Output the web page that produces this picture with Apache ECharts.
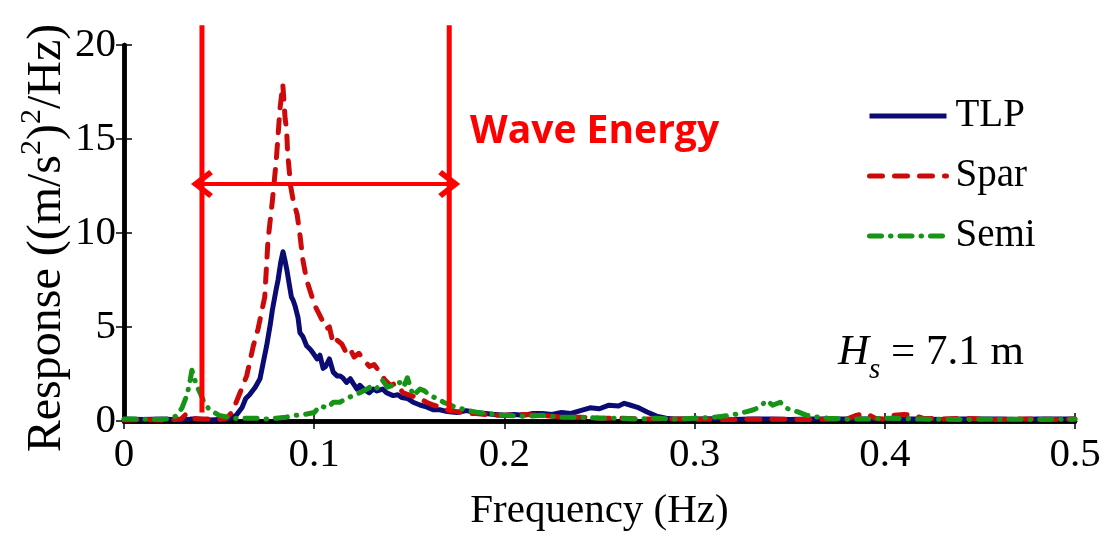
<!DOCTYPE html>
<html>
<head>
<meta charset="utf-8">
<script src="https://cdn.jsdelivr.net/npm/echarts@6/dist/echarts.min.js"></script>
<style>
html,body{margin:0;padding:0;background:#fff;}
#chart{width:1112px;height:537px;}
</style>
</head>
<body>
<div id="chart"></div>
<script>
// ---- data ----
const xTicks = [0, 0.1, 0.2, 0.3, 0.4, 0.5];
const yTicks = [0, 5, 10, 15, 20];

const tlpFreq = [0,0.01,0.02,0.03,0.035,0.04,0.045,0.05,0.055,0.059,0.062,0.064,0.066,0.069,0.0715,0.073,0.075,0.077,0.078,0.08,0.081,0.0825,0.0836,0.0845,0.0857,0.087,0.088,0.089,0.090,0.0915,0.0925,0.094,0.096,0.098,0.0995,0.1015,0.103,0.1047,0.106,0.108,0.110,0.112,0.1135,0.115,0.117,0.119,0.1205,0.1225,0.124,0.126,0.129,0.131,0.133,0.136,0.138,0.1415,0.144,0.146,0.149,0.152,0.1556,0.159,0.1625,0.166,0.17,0.175,0.18,0.185,0.19,0.195,0.2,0.205,0.21,0.215,0.22,0.225,0.23,0.235,0.24,0.245,0.25,0.255,0.26,0.263,0.266,0.27,0.275,0.28,0.285,0.29,0.3,0.31,0.32,0.33,0.34,0.35,0.36,0.37,0.38,0.39,0.4,0.41,0.42,0.43,0.44,0.45,0.46,0.47,0.48,0.49,0.5];
const tlpValues = [0.1,0.08,0.1,0.05,0.1,0.1,0.05,0.08,0.1,0.3,0.7,1.2,1.4,1.8,2.25,3.0,4.0,5.2,5.9,7.0,7.5,8.5,9.0,8.6,8.0,7.2,6.6,6.4,6.1,5.5,4.7,4.5,4.0,3.8,3.6,3.3,3.5,2.8,2.9,3.3,2.6,2.4,2.4,2.3,2.05,2.25,2.0,1.7,1.9,1.7,1.5,1.7,1.6,1.7,1.5,1.35,1.4,1.25,1.2,1.0,0.85,0.75,0.6,0.6,0.5,0.45,0.55,0.45,0.4,0.35,0.3,0.35,0.3,0.4,0.4,0.35,0.45,0.4,0.55,0.7,0.65,0.84,0.8,0.94,0.85,0.73,0.48,0.26,0.15,0.1,0.1,0.12,0.08,0.1,0.1,0.08,0.1,0.1,0.1,0.1,0.08,0.1,0.1,0.08,0.1,0.1,0.1,0.08,0.1,0.1,0.1];

const sparFreq = [0,0.01,0.02,0.03,0.033,0.036,0.04,0.045,0.05,0.054,0.057,0.061,0.0645,0.068,0.0705,0.074,0.0757,0.078,0.08,0.082,0.0835,0.0847,0.0855,0.086,0.0876,0.089,0.091,0.0925,0.094,0.096,0.0995,0.101,0.103,0.105,0.1065,0.108,0.11,0.112,0.1145,0.117,0.119,0.121,0.1235,0.1257,0.129,0.1315,0.1346,0.137,0.14,0.143,0.1467,0.151,0.1556,0.159,0.1625,0.166,0.17,0.175,0.18,0.185,0.19,0.195,0.2,0.21,0.22,0.23,0.24,0.25,0.26,0.27,0.28,0.29,0.3,0.32,0.34,0.36,0.38,0.385,0.39,0.395,0.4,0.405,0.41,0.415,0.42,0.43,0.44,0.45,0.46,0.47,0.48,0.49,0.5];
const sparValues = [0.05,0.08,0.05,0.1,0.4,0.15,0.1,0.1,0.08,0.15,0.5,1.5,2.4,4.0,4.9,6.6,9.6,11.7,13.8,16.6,17.9,16.1,15.5,14.3,12.5,11.7,11.0,9.9,8.6,7.5,6.4,6.0,5.6,5.2,4.9,5.0,4.1,4.3,4.1,3.6,3.8,3.4,3.6,3.3,2.9,3.0,2.6,2.2,1.9,2.0,1.5,1.35,1.2,1.0,0.85,0.75,0.6,0.5,0.4,0.4,0.35,0.3,0.3,0.35,0.3,0.2,0.2,0.15,0.15,0.12,0.1,0.1,0.1,0.08,0.1,0.08,0.1,0.3,0.4,0.15,0.1,0.3,0.35,0.3,0.15,0.1,0.15,0.1,0.08,0.1,0.1,0.08,0.1];

const semiFreq = [0,0.01,0.02,0.025,0.028,0.0305,0.033,0.0345,0.0357,0.037,0.038,0.04,0.0425,0.045,0.05,0.055,0.06,0.065,0.07,0.075,0.08,0.085,0.09,0.095,0.1,0.103,0.107,0.11,0.1135,0.117,0.1205,0.124,0.1277,0.131,0.133,0.136,0.1385,0.1415,0.145,0.147,0.149,0.152,0.1556,0.158,0.161,0.1645,0.168,0.1715,0.175,0.18,0.1835,0.19,0.195,0.2,0.21,0.22,0.23,0.24,0.25,0.26,0.27,0.28,0.29,0.3,0.31,0.3186,0.3235,0.3275,0.331,0.334,0.338,0.341,0.345,0.3485,0.351,0.354,0.359,0.365,0.37,0.38,0.39,0.4,0.42,0.44,0.46,0.48,0.5];
const semiValues = [0.1,0.1,0.08,0.15,0.3,0.7,1.35,2.0,2.7,2.3,1.9,1.5,0.9,0.6,0.3,0.2,0.12,0.15,0.15,0.1,0.15,0.2,0.3,0.35,0.45,0.8,0.7,1.0,1.0,1.2,1.35,1.5,1.7,1.9,1.75,2.15,1.8,1.9,2.05,1.8,2.3,1.35,1.7,1.6,1.35,1.2,1.0,0.85,0.7,0.6,0.5,0.4,0.35,0.3,0.25,0.3,0.2,0.2,0.15,0.15,0.1,0.15,0.1,0.15,0.2,0.3,0.4,0.5,0.6,0.73,1.1,0.84,1.0,0.68,0.55,0.5,0.3,0.2,0.15,0.1,0.1,0.15,0.1,0.08,0.1,0.08,0.1];

// wave-energy band annotation (frequencies and heights in data units)
const bandFreqs = [0.041, 0.171];
const bandLineRange = [0.45, 21.05];
const arrowLevel = 12.6;

// ---- build ----
function zip(xs, ys) {
  const n = Math.min(xs.length, ys.length);
  const out = [];
  for (let i = 0; i < n; i++) out.push([xs[i], ys[i]]);
  return out;
}

const SERIF = '"Liberation Serif","Times New Roman",serif';
const chart = echarts.init(document.getElementById('chart'), null, {renderer: 'canvas'});

const axisLineStyle = {color: '#000', width: 4.5};
const tickStyle = {color: '#000', width: 1.5};

const chevron = 'path://M0,12 L10,0 L20,12 L17,14.5 L10,6 L3,14.5 Z';

const option = {
  backgroundColor: '#ffffff',
  animation: false,
  grid: {left: 124, right: 37, top: 45, bottom: 111, containLabel: false},
  legend: {
    data: ['TLP', 'Spar', 'Semi'],
    orient: 'vertical',
    left: 862,
    top: 89,
    itemWidth: 77,
    itemHeight: 14,
    itemGap: 16,
    itemStyle: {opacity: 0},
    lineStyle: {width: 5},
    textStyle: {fontFamily: SERIF, fontSize: 39, color: '#000', lineHeight: 44, padding: [0, 0, 0, 4]}
  },
  xAxis: [
    {
      type: 'value', min: 0, max: 0.5, interval: 0.1, position: 'bottom',
      axisLine: {show: true, lineStyle: axisLineStyle},
      axisTick: {show: true, inside: true, length: 8, lineStyle: tickStyle},
      splitLine: {show: false},
      axisLabel: {
        fontFamily: SERIF, fontSize: 41, color: '#000', margin: 14,
        formatter: v => { const t = xTicks.find(x => Math.abs(x - v) < 1e-9); return t === undefined ? '' : String(t); }
      },
      name: 'Frequency (Hz)', nameLocation: 'middle', nameGap: 70,
      nameTextStyle: {fontFamily: SERIF, fontSize: 41, color: '#000'}
    },
    {
      type: 'value', min: 0, max: 0.5, interval: 0.1, position: 'top',
      axisLine: {show: true, lineStyle: axisLineStyle},
      axisTick: {show: true, inside: true, length: 8, lineStyle: tickStyle},
      axisLabel: {show: false}, splitLine: {show: false}
    }
  ],
  yAxis: [
    {
      type: 'value', min: 0, max: 20, interval: 5, position: 'left',
      axisLine: {show: true, lineStyle: axisLineStyle},
      axisTick: {show: true, inside: true, length: 8, lineStyle: tickStyle},
      splitLine: {show: false},
      axisLabel: {
        fontFamily: SERIF, fontSize: 41, color: '#000', margin: 8,
        formatter: v => { const t = yTicks.find(x => Math.abs(x - v) < 1e-9); return t === undefined ? '' : String(t); }
      }
    },
    {
      type: 'value', min: 0, max: 20, interval: 5, position: 'right',
      axisLine: {show: true, lineStyle: axisLineStyle},
      axisTick: {show: true, inside: true, length: 8, lineStyle: tickStyle},
      axisLabel: {show: false}, splitLine: {show: false}
    }
  ],
  series: [
    {
      name: 'TLP', type: 'line', data: zip(tlpFreq, tlpValues),
      showSymbol: false, symbol: 'none',
      lineStyle: {color: '#0B0B74', width: 5, join: 'round'},
      itemStyle: {color: '#0B0B74'}, z: 3
    },
    {
      name: 'Spar', type: 'line', data: zip(sparFreq, sparValues),
      showSymbol: false, symbol: 'none',
      lineStyle: {color: '#CC0A0A', width: 5, type: [13, 12], cap: 'round', join: 'round'},
      itemStyle: {color: '#CC0A0A'}, z: 4
    },
    {
      name: 'Semi', type: 'line', data: zip(semiFreq, semiValues),
      showSymbol: false, symbol: 'none',
      lineStyle: {color: '#169416', width: 5, type: [12, 9, 0.5, 9], cap: 'round', join: 'round'},
      itemStyle: {color: '#169416'}, z: 5
    },
    {
      name: 'bandStart', type: 'line', clip: false, symbol: 'none', silent: true,
      data: [[bandFreqs[0], bandLineRange[0]], [bandFreqs[0], bandLineRange[1]]],
      lineStyle: {color: '#FF0000', width: 5}, z: 6
    },
    {
      name: 'bandEnd', type: 'line', clip: false, symbol: 'none', silent: true,
      data: [[bandFreqs[1], bandLineRange[0]], [bandFreqs[1], bandLineRange[1]]],
      lineStyle: {color: '#FF0000', width: 5}, z: 6,
      markLine: {
        silent: true, animation: false,
        symbol: [chevron, chevron], symbolSize: [28, 22],
        label: {show: false},
        lineStyle: {color: '#FF0000', width: 4, type: 'solid'},
        itemStyle: {color: '#FF0000'},
        data: [[{coord: [bandFreqs[0], arrowLevel]}, {coord: [bandFreqs[1], arrowLevel]}]]
      }
    }
  ],
  graphic: [
    {
      type: 'text', x: 44, y: 238, rotation: Math.PI / 2,
      style: {
        text: '{a|Response ((m/s}{s|2}{a|)}{s|2}{a|/Hz)}',
        align: 'center', verticalAlign: 'middle',
        rich: {
          a: {fontFamily: SERIF, fontSize: 48, fill: '#000', lineHeight: 54, verticalAlign: 'bottom'},
          s: {fontFamily: SERIF, fontSize: 30, fill: '#000', lineHeight: 54, verticalAlign: 'top'}
        }
      }
    },
    {
      type: 'text', left: 470, top: 112,
      style: {
        text: 'Wave Energy', fill: '#FF0000',
        font: 'bold 39px "Open Sans", sans-serif'
      }
    },
    {
      type: 'text', left: 838, top: 331,
      style: {
        text: '{h|H}{s|s}{n| = 7.1 m}',
        rich: {
          h: {fontFamily: SERIF, fontStyle: 'italic', fontSize: 43, fill: '#000', lineHeight: 54, verticalAlign: 'top'},
          s: {fontFamily: SERIF, fontStyle: 'italic', fontSize: 29, fill: '#000', lineHeight: 54, verticalAlign: 'bottom'},
          n: {fontFamily: SERIF, fontSize: 43, fill: '#000', lineHeight: 54, verticalAlign: 'top'}
        }
      }
    }
  ]
};

chart.setOption(option);
</script>
</body>
</html>
